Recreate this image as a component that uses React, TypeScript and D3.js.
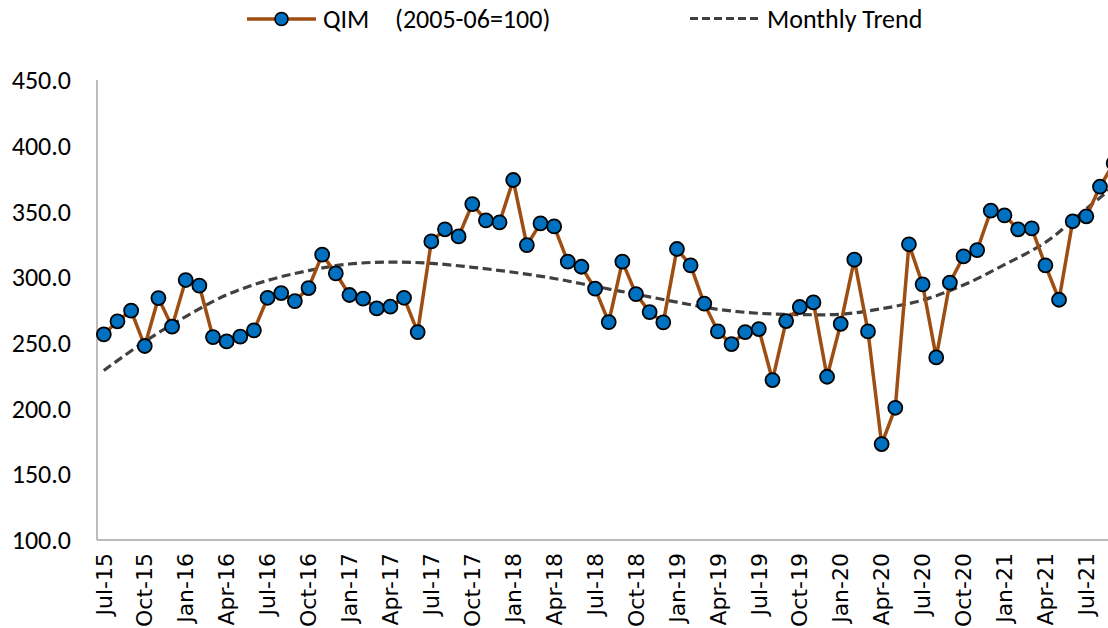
import React from "react";
import * as d3 from "d3";

// ---------- DATA ----------
const months: string[] = d3
  .timeMonth.range(new Date(2015, 6, 1), new Date(2021, 9, 1))
  .map((d) => d3.timeFormat("%b-%y")(d));

const qimValues: number[] = [
  256.5, 266.4, 274.5, 247.6, 284.1, 262.3, 297.8, 293.5, 254.4, 251.1, 254.7, 259.5,
  284.3, 287.9, 281.8, 291.7, 317.1, 302.9, 286.4, 283.6, 276.2, 277.5, 284.3, 258.2,
  327.2, 336.4, 331.0, 355.6, 343.2, 341.7, 373.9, 324.4, 340.9, 338.6, 311.8, 307.9,
  291.2, 265.8, 311.8, 287.1, 273.4, 265.6, 321.4, 309.0, 279.8, 258.7, 249.1, 258.2,
  260.5, 221.7, 266.6, 277.3, 280.8, 224.2, 264.5, 313.3, 258.7, 173.0, 200.6, 325.0,
  294.5, 238.9, 295.8, 315.8, 320.6, 350.6, 347.0, 336.4, 337.1, 309.0, 282.8, 342.5,
  346.3, 368.8, 386.6,
];

const trendMonths: string[] = [
  "Jul-15", "Oct-15", "Jan-16", "Apr-16", "Jul-16", "Oct-16", "Jan-17", "Apr-17",
  "Jul-17", "Oct-17", "Jan-18", "Apr-18", "Jul-18", "Oct-18", "Jan-19", "Apr-19",
  "Jul-19", "Oct-19", "Jan-20", "Apr-20", "Jul-20", "Oct-20", "Jan-21", "Apr-21",
  "Jul-21", "Sep-21",
];
const trendValues: number[] = [
  229, 251, 270, 286.5, 297.5, 305, 310, 311.5, 310.5, 307.5, 303.7, 299, 293, 287,
  281, 275.5, 272.5, 271.5, 271.8, 276, 282.5, 294, 309.5, 326.5, 352, 369,
];

const yTicks: number[] = [100, 150, 200, 250, 300, 350, 400, 450];
const xTickLabels: string[] = months.filter((_, i) => i % 3 === 0);

const legendSeries = "QIM";
const legendSeriesNote = "(2005-06=100)";
const legendTrend = "Monthly Trend";

// ---------- STYLE ----------
const W = 1108;
const H = 628;
const LINE_COLOR = "#9E4E12";
const MARKER_FILL = "#0070C0";
const TREND_COLOR = "#404040";
const AXIS_COLOR = "#A6A6A6";
const LABEL_FONT = "Carlito, Calibri, Lato, sans-serif";
const XLABEL_FONT = "'DejaVu Sans', Verdana, sans-serif";

export default function App() {
  const step = 13.646;
  const left = 97;
  const x = d3
    .scaleBand<string>()
    .domain(months)
    .range([left, left + months.length * step])
    .paddingInner(0)
    .paddingOuter(0);
  const cx = (m: string) => (x(m) as number) + x.bandwidth() / 2;
  const y = d3.scaleLinear().domain([100, 450]).range([540, 80]);

  const line = d3
    .line<number>()
    .x((_, i) => cx(months[i]))
    .y((d) => y(d));

  const trendLine = d3
    .line<number>()
    .x((_, i) => cx(trendMonths[i]))
    .y((d) => y(d))
    .curve(d3.curveCatmullRom.alpha(0.5));

  return (
    <svg
      width={W}
      height={H}
      style={{ position: "absolute", left: 0, top: 0, display: "block", background: "#fff" }}
    >
      <rect x={0} y={0} width={W} height={H} fill="#fff" />
      {/* Legend */}
      <g>
        <line x1={247} x2={316} y1={19} y2={19} stroke={LINE_COLOR} strokeWidth={3.5} />
        <circle cx={281.5} cy={19} r={6.5} fill={MARKER_FILL} stroke="#000" strokeWidth={1.5} />
        <text x={323} y={27.5} fontFamily={LABEL_FONT} fontSize={26} fill="#000">
          {legendSeries}
        </text>
        <text x={395} y={27.5} fontFamily={LABEL_FONT} fontSize={26} fill="#000">
          {legendSeriesNote}
        </text>
        <line
          x1={690}
          x2={759}
          y1={18.5}
          y2={18.5}
          stroke={TREND_COLOR}
          strokeWidth={3}
          strokeDasharray="8,4"
        />
        <text x={767} y={27.5} fontFamily={LABEL_FONT} fontSize={26} fill="#000">
          {legendTrend}
        </text>
      </g>

      {/* Axes */}
      <line x1={left} x2={left} y1={y(450)} y2={y(100)} stroke={AXIS_COLOR} strokeWidth={1.5} />
      <line x1={left} x2={W} y1={y(100)} y2={y(100)} stroke={AXIS_COLOR} strokeWidth={1.5} />

      {yTicks.map((t) => (
        <text
          key={t}
          x={71}
          y={y(t)}
          dy="0.35em"
          textAnchor="end"
          fontFamily={LABEL_FONT}
          fontSize={26}
          fill="#000"
        >
          {t.toFixed(1)}
        </text>
      ))}

      {xTickLabels.map((m) => (
        <text
          key={m}
          transform={`translate(${cx(m)},553) rotate(-90)`}
          dy="0.35em"
          textAnchor="end"
          fontFamily={XLABEL_FONT}
          fontSize={22}
          fill="#000"
        >
          {m}
        </text>
      ))}

      {/* Trend */}
      <path
        d={trendLine(trendValues) || ""}
        fill="none"
        stroke={TREND_COLOR}
        strokeWidth={3.2}
        strokeDasharray="9,4.5"
      />

      {/* Series */}
      <path d={line(qimValues) || ""} fill="none" stroke={LINE_COLOR} strokeWidth={3.5} />
      {qimValues.map((v, i) => (
        <circle
          key={i}
          cx={cx(months[i])}
          cy={y(v)}
          r={7}
          fill={MARKER_FILL}
          stroke="#000"
          strokeWidth={1.8}
        />
      ))}
    </svg>
  );
}
